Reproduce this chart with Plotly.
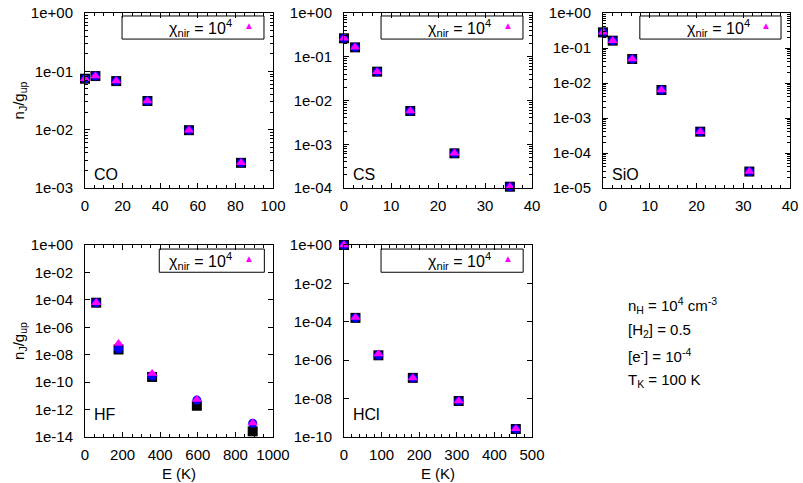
import plotly.graph_objects as go

# ---------------- data ----------------
co_E = [0, 5.53, 16.6, 33.2, 55.3, 83.0]
co_black = [0.0747, 0.083, 0.068, 0.031, 0.0098, 0.0027]
co_blue = [0.0747, 0.083, 0.068, 0.031, 0.0098, 0.0027]
co_mag = [0.0747, 0.083, 0.068, 0.031, 0.0098, 0.0027]

cs_E = [0, 2.35, 7.05, 14.1, 23.5, 35.3]
cs_black = [0.264, 0.164, 0.0456, 0.00575, 6.2e-4, 1.07e-4]
cs_blue = [0.264, 0.164, 0.0456, 0.00575, 6.2e-4, 1.07e-4]
cs_mag = [0.264, 0.164, 0.0456, 0.00575, 6.2e-4, 1.07e-4]

sio_E = [0, 2.08, 6.25, 12.5, 20.8, 31.3]
sio_black = [0.28, 0.162, 0.0485, 0.0063, 4.07e-4, 2.95e-5]
sio_blue = [0.28, 0.162, 0.0485, 0.0063, 4.07e-4, 2.95e-5]
sio_mag = [0.28, 0.162, 0.0485, 0.0063, 4.07e-4, 2.95e-5]

hf_E = [59.5, 178.5, 357, 595, 892]
hf_black = [6.2e-5, 2.4e-8, 2.4e-10, 1.9e-12, 2.6e-14]
hf_blue = [6.2e-5, 2.7e-8, 2.8e-10, 4.9e-12, 1.0e-13]
hf_mag = [6.2e-5, 6.6e-8, 4.3e-10, 5.5e-12, 1.07e-13]

hcl_E = [0, 30.5, 91.5, 183, 305, 457]
hcl_black = [1.0, 1.6e-4, 1.8e-6, 1.2e-7, 7.5e-9, 2.6e-10]
hcl_blue = [1.0, 1.6e-4, 1.8e-6, 1.2e-7, 7.5e-9, 2.6e-10]
hcl_mag = [1.0, 1.7e-4, 2.1e-6, 1.2e-7, 7.6e-9, 2.7e-10]

molecules = ["CO", "CS", "SiO", "HF", "HCl"]
legend_label = "χ<sub>nir</sub> = 10<sup>4</sup>"

x_ranges = [[0, 100], [0, 40], [0, 40], [0, 1000], [0, 500]]
x_dticks = [20, 10, 10, 200, 100]
x_minor_dticks = [5, 2, 2, 50, 20]
y_exp_ranges = [(-3, 0, 1), (-4, 0, 1), (-5, 0, 1), (-14, 0, 2), (-10, 0, 2)]

info_lines = [
    "n<sub>H</sub> = 10<sup>4</sup> cm<sup>-3</sup>",
    "[H<sub>2</sub>] = 0.5",
    "[e<sup>-</sup>] = 10<sup>-4</sup>",
    "T<sub>K</sub> = 100 K",
]

# ---------------- layout geometry ----------------
W, H = 803, 483
panels_px = [  # x0, x1, ytop, ybot
    (85, 273, 13, 188),
    (344, 532, 13, 188),
    (603, 790, 13, 188),
    (85, 273, 245, 437),
    (344, 532, 245, 437),
]
legend_box = [  # x0, x1, y0, y1 in domain fractions
    (0.197, 0.952, 0.851, 0.983),
    (0.197, 0.952, 0.851, 0.983),
    (0.197, 0.952, 0.851, 0.983),
    (0.395, 0.954, 0.858, 0.979),
    (0.197, 0.953, 0.858, 0.979),
]

data = [
    (co_E, co_black, co_blue, co_mag),
    (cs_E, cs_black, cs_blue, cs_mag),
    (sio_E, sio_black, sio_blue, sio_mag),
    (hf_E, hf_black, hf_blue, hf_mag),
    (hcl_E, hcl_black, hcl_blue, hcl_mag),
]

FONT = "Liberation Sans, Arial, sans-serif"
FS = 15
fig = go.Figure()
layout = dict(
    width=W, height=H,
    margin=dict(l=0, r=0, t=0, b=0),
    paper_bgcolor="white", plot_bgcolor="white",
    showlegend=False,
    font=dict(family=FONT, size=FS, color="black"),
)
annotations = []
shapes = []

for i, (E, yb, yc, ym) in enumerate(data):
    n = i + 1
    xa = "x" if n == 1 else f"x{n}"
    ya = "y" if n == 1 else f"y{n}"
    fig.add_trace(go.Scatter(x=E, y=yb, mode="markers", xaxis=xa, yaxis=ya, cliponaxis=False,
                             marker=dict(symbol="square", size=10, color="black"), name="black"))
    fig.add_trace(go.Scatter(x=E, y=yc, mode="markers", xaxis=xa, yaxis=ya, cliponaxis=False,
                             marker=dict(symbol="circle", size=9, color="#0000ff"), name="blue"))
    fig.add_trace(go.Scatter(x=E, y=ym, mode="markers", xaxis=xa, yaxis=ya, cliponaxis=False,
                             marker=dict(symbol="triangle-up", size=9, color="#ff00ff"), name=legend_label))

    x0, x1, yt, ybm = panels_px[i]
    lo, hi, step = y_exp_ranges[i]
    exps = list(range(hi, lo - 1, -step))
    tickvals = [10.0 ** e for e in exps]
    ticktext = [("1e+%02d" % e) if e >= 0 else ("1e-%02d" % (-e)) for e in exps]
    minor_vals = []
    if step == 1:
        for e in range(lo, hi):
            for m in range(2, 10):
                minor_vals.append(m * 10.0 ** e)

    xkey = "xaxis" if n == 1 else f"xaxis{n}"
    ykey = "yaxis" if n == 1 else f"yaxis{n}"
    layout[xkey] = dict(
        domain=[x0 / W, x1 / W], anchor=ya, range=x_ranges[i], dtick=x_dticks[i], tick0=0,
        showline=True, linecolor="black", linewidth=1, mirror="ticks", automargin=False,
        ticks="inside", ticklen=5, tickcolor="black", showgrid=False, zeroline=False,
        tickfont=dict(size=FS), ticklabelstandoff=4,
        minor=dict(dtick=x_minor_dticks[i], tick0=0, ticks="inside", ticklen=3,
                   tickcolor="black", showgrid=False),
    )
    if n >= 4:
        layout[xkey]["title"] = dict(text="E (K)", font=dict(size=FS), standoff=6)
    ydict = dict(
        domain=[1 - ybm / H, 1 - yt / H], anchor=xa, type="log", range=[lo, hi],
        tickmode="array", tickvals=tickvals, ticktext=ticktext, automargin=False,
        showline=True, linecolor="black", linewidth=1, mirror="ticks",
        ticks="inside", ticklen=5, tickcolor="black", showgrid=False, zeroline=False,
        tickfont=dict(size=FS), ticklabelstandoff=8,
    )
    if minor_vals:
        ydict["minor"] = dict(tickmode="array", tickvals=minor_vals, ticks="inside",
                              ticklen=3, tickcolor="black", showgrid=False)
    if n in (1, 4):
        ydict["title"] = dict(text="n<sub>J</sub>/g<sub>up</sub>", font=dict(size=FS), standoff=2)
    layout[ykey] = ydict

    # molecule label
    annotations.append(dict(text=molecules[i], xref=f"{xa} domain", yref=f"{ya} domain",
                            x=0.035, y=0.015 if n <= 3 else 0.06, xanchor="left", yanchor="bottom",
                            showarrow=False, font=dict(size=16)))
    # key box
    bx0, bx1, by0, by1 = legend_box[i]
    shapes.append(dict(type="rect", xref=f"{xa} domain", yref=f"{ya} domain",
                       x0=bx0, x1=bx1, y0=by0, y1=by1, line=dict(color="black", width=1),
                       fillcolor="white", layer="below"))
    annotations.append(dict(text=legend_label, xref=f"{xa} domain", yref=f"{ya} domain",
                            x=0.795, y=(by0 + by1) / 2, xanchor="right", yanchor="middle",
                            showarrow=False, font=dict(size=16)))
    annotations.append(dict(text="▲", xref=f"{xa} domain", yref=f"{ya} domain",
                            x=0.872, y=(by0 + by1) / 2 + 0.01, xanchor="center", yanchor="middle",
                            showarrow=False, font=dict(size=10, color="#ff00ff")))

info_y = [305, 330, 355, 380]
for txt, yy in zip(info_lines, info_y):
    annotations.append(dict(text=txt, xref="paper", yref="paper", x=626 / W, y=1 - yy / H,
                            xanchor="left", yanchor="middle", showarrow=False,
                            font=dict(size=FS)))

layout["annotations"] = annotations
layout["shapes"] = shapes
fig.update_layout(**layout)
fig.write_html("out.html", config={"displayModeBar": False},
               post_script="document.body.style.margin='0';document.body.style.overflow='hidden';")
